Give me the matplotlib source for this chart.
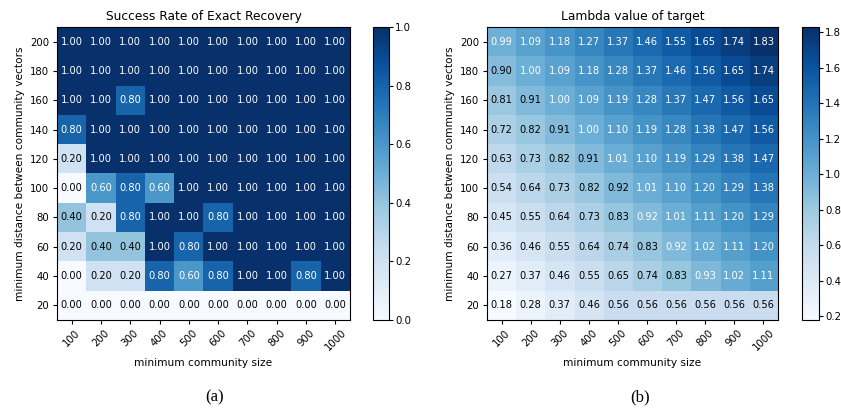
import numpy as np
import matplotlib
matplotlib.use("Agg")
import matplotlib.pyplot as plt

# axis categories
sizes = [100, 200, 300, 400, 500, 600, 700, 800, 900, 1000]
distances = [200, 180, 160, 140, 120, 100, 80, 60, 40, 20]  # top row first

# (a) success rate of exact recovery, rows follow `distances`
success = np.array([
    [1.0, 1.0, 1.0, 1.0, 1.0, 1.0, 1.0, 1.0, 1.0, 1.0],
    [1.0, 1.0, 1.0, 1.0, 1.0, 1.0, 1.0, 1.0, 1.0, 1.0],
    [1.0, 1.0, 0.8, 1.0, 1.0, 1.0, 1.0, 1.0, 1.0, 1.0],
    [0.8, 1.0, 1.0, 1.0, 1.0, 1.0, 1.0, 1.0, 1.0, 1.0],
    [0.2, 1.0, 1.0, 1.0, 1.0, 1.0, 1.0, 1.0, 1.0, 1.0],
    [0.0, 0.6, 0.8, 0.6, 1.0, 1.0, 1.0, 1.0, 1.0, 1.0],
    [0.4, 0.2, 0.8, 1.0, 1.0, 0.8, 1.0, 1.0, 1.0, 1.0],
    [0.2, 0.4, 0.4, 1.0, 0.8, 1.0, 1.0, 1.0, 1.0, 1.0],
    [0.0, 0.2, 0.2, 0.8, 0.6, 0.8, 1.0, 1.0, 0.8, 1.0],
    [0.0, 0.0, 0.0, 0.0, 0.0, 0.0, 0.0, 0.0, 0.0, 0.0],
])

# (b) lambda value of target
lam = np.array([
    [0.99, 1.09, 1.18, 1.27, 1.37, 1.46, 1.55, 1.65, 1.74, 1.83],
    [0.90, 1.00, 1.09, 1.18, 1.28, 1.37, 1.46, 1.56, 1.65, 1.74],
    [0.81, 0.91, 1.00, 1.09, 1.19, 1.28, 1.37, 1.47, 1.56, 1.65],
    [0.72, 0.82, 0.91, 1.00, 1.10, 1.19, 1.28, 1.38, 1.47, 1.56],
    [0.63, 0.73, 0.82, 0.91, 1.01, 1.10, 1.19, 1.29, 1.38, 1.47],
    [0.54, 0.64, 0.73, 0.82, 0.916, 1.01, 1.10, 1.20, 1.29, 1.38],
    [0.45, 0.55, 0.64, 0.73, 0.83, 0.92, 1.01, 1.11, 1.20, 1.29],
    [0.36, 0.46, 0.55, 0.64, 0.74, 0.83, 0.92, 1.02, 1.11, 1.20],
    [0.27, 0.37, 0.46, 0.55, 0.65, 0.74, 0.83, 0.93, 1.02, 1.11],
    [0.18, 0.28, 0.37, 0.46, 0.56, 0.56, 0.56, 0.56, 0.56, 0.56],
])

W, H = 841, 409
fig = plt.figure(figsize=(W / 100, H / 100), dpi=100)


def box(x0, x1, y0, y1):
    return [x0 / W, 1 - y1 / H, (x1 - x0) / W, (y1 - y0) / H]


def heatmap(ax, cax, data, title, threshold, cticks):
    im = ax.imshow(data, cmap="Blues", aspect="auto")
    for i in range(data.shape[0]):
        for j in range(data.shape[1]):
            v = data[i, j]
            ax.text(j, i, "%.2f" % v, ha="center", va="center", fontsize=7.1,
                    color="w" if v > threshold else "k")
    ax.set_xticks(range(len(sizes)))
    ax.set_xticklabels(sizes, rotation=45)
    ax.set_yticks(range(len(distances)))
    ax.set_yticklabels(distances)
    ax.tick_params(labelsize=7.3, length=3, pad=2.5)
    ax.set_title(title, fontsize=8.8, pad=5)
    ax.set_xlabel("minimum community size", fontsize=7.6)
    ax.set_ylabel("minimum distance between community vectors", fontsize=7.6)
    cb = fig.colorbar(im, cax=cax, ticks=cticks)
    cb.ax.tick_params(labelsize=7.3, length=3, pad=1.5)
    return im


ax1 = fig.add_axes(box(57, 350, 27, 320))
cax1 = fig.add_axes(box(373, 389, 27, 320))
heatmap(ax1, cax1, success, "Success Rate of Exact Recovery", 0.5,
        [0.0, 0.2, 0.4, 0.6, 0.8, 1.0])

ax2 = fig.add_axes(box(487, 778, 27, 320))
cax2 = fig.add_axes(box(802, 819, 27, 320))
heatmap(ax2, cax2, lam, "Lambda value of target", 0.917,
        [0.2, 0.4, 0.6, 0.8, 1.0, 1.2, 1.4, 1.6, 1.8])

fig.text(215 / W, 1 - 397 / H, "(a)", ha="center", va="center",
         fontsize=12, family="Liberation Serif")
fig.text(640 / W, 1 - 397 / H, "(b)", ha="center", va="center",
         fontsize=12, family="Liberation Serif")

fig.savefig("out.png", dpi=100)
